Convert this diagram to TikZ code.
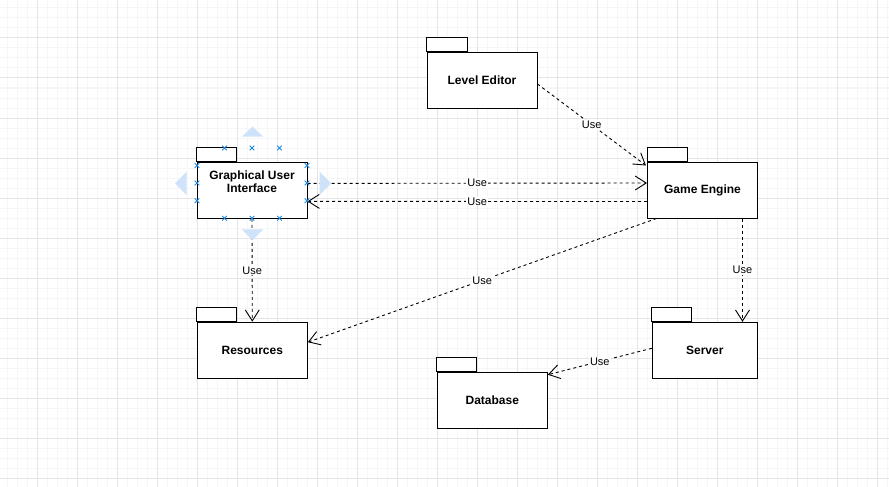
\documentclass[tikz,border=0pt]{standalone}
\usepackage{fontspec}
\setmainfont{Liberation Sans}
\usetikzlibrary{arrows.meta,calc}
\definecolor{gridminor}{RGB}{246,246,246}
\definecolor{gridmajor}{RGB}{229,229,229}
\definecolor{selblue}{RGB}{30,136,229}
\definecolor{hintblue}{RGB}{206,226,250}
\begin{document}
\begin{tikzpicture}[x=1pt,y=-1pt,
  pkg/.style={draw=black, line width=1pt, fill=white, minimum width=110pt, minimum height=56pt, inner sep=0pt, font=\fontsize{12}{14}\selectfont\bfseries, align=center},
  pkgtab/.style={draw=black, line width=1pt, fill=white},
  pkgtext/.style={inner sep=0pt, font=\fontsize{12}{13.5}\selectfont\bfseries, align=center},
  usearrow/.style={draw=black, line width=0.9pt, dash pattern=on 3pt off 3pt, -{Straight Barb[length=11pt,width=14pt]}},
  lbl/.style={fill=white, inner sep=1pt, font=\fontsize{11}{13}\selectfont},
  selmark/.style={draw=selblue, line width=0.8pt},
  hint/.style={fill=hintblue, draw=none},
]
\useasboundingbox (0,0) rectangle (889,487);
\fill[white] (0,0) rectangle (889,487);
% grid
\foreach \x in {7,17,...,887} \draw[gridminor, line width=1pt] (\x,0) -- (\x,487);
\foreach \y in {8,18,...,478} \draw[gridminor, line width=1pt] (0,\y) -- (889,\y);
\foreach \x in {37,77,...,877} \draw[gridmajor, line width=1pt] (\x,0) -- (\x,487);
\foreach \y in {38,78,...,478} \draw[gridmajor, line width=1pt] (0,\y) -- (889,\y);

% packages
\node[pkg] (le)  at (482,80.5) {Level Editor};
\draw[pkgtab] (le.north west) rectangle ++(40.5,-14.3);
\node[pkg] (gui) at (252,190.4) {};
\draw[pkgtab] (gui.north west) rectangle ++(40,-14.3);
\node[pkgtext] (guitext) at (252,181.5) {Graphical User\\Interface};
\node[pkg] (ge)  at (702.5,190) {Game Engine};
\draw[pkgtab] (ge.north west) rectangle ++(40,-14);
\node[pkg] (res) at (252.3,350.2) {Resources};
\draw[pkgtab] (res.north west) rectangle ++(40,-14);
\node[pkg, minimum width=105pt] (srv) at (704.8,350.3) {Server};
\draw[pkgtab] (srv.north west) rectangle ++(40,-14);
\node[pkg] (db)  at (492.3,400.2) {Database};
\draw[pkgtab] (db.north west) rectangle ++(40,-14);

% connectors
\draw[usearrow] ([yshift=-3.5pt]le.east) -- ([xshift=-1pt,yshift=-4pt]ge.north west) node[lbl, pos=0.5] {Use};
\draw[usearrow] ([yshift=7pt]gui.east) -- ([yshift=7pt]ge.west) node[lbl, pos=0.5] {Use};
\draw[usearrow] ([yshift=-11.5pt]ge.west) -- ([yshift=-11pt]gui.east) node[lbl, pos=0.5] {Use};
\draw[usearrow] (gui.south) -- (res.north) node[lbl, pos=0.5] {Use};
\draw[usearrow] ([xshift=9.5pt]ge.south west) -- ([yshift=8pt]res.east) node[lbl, pos=0.5] {Use};
\draw[usearrow] ([xshift=40pt]ge.south) -- ([xshift=40pt]ge.south |- srv.north) node[lbl, pos=0.5] {Use};
\draw[usearrow] ([yshift=2pt]srv.west) -- ([yshift=-3pt]db.north east) node[lbl, pos=0.5] {Use};

% selection handles on the GUI package
\fill[hint] (241.7,136.7) -- (252.5,126.7) -- (263.3,136.7) -- cycle;
\fill[hint] (241.7,229.3) -- (252.5,240.3) -- (263.3,229.3) -- cycle;
\fill[hint] (186.7,171.7) -- (175,183.3) -- (186.7,195) -- cycle;
\fill[hint] (319.5,171.7) -- (331.2,183.3) -- (319.5,195) -- cycle;
\foreach \px/\py in {224.5/148, 252/148, 279.5/148, 224.5/218.3, 252/218.3, 279.5/218.3,
                     197/165.5, 197/183, 197/200.8, 307/165.5, 307/183, 307/200.8}
  \draw[selmark] (\px-2.3,\py-2.3) -- (\px+2.3,\py+2.3) (\px-2.3,\py+2.3) -- (\px+2.3,\py-2.3);
\end{tikzpicture}
\end{document}
